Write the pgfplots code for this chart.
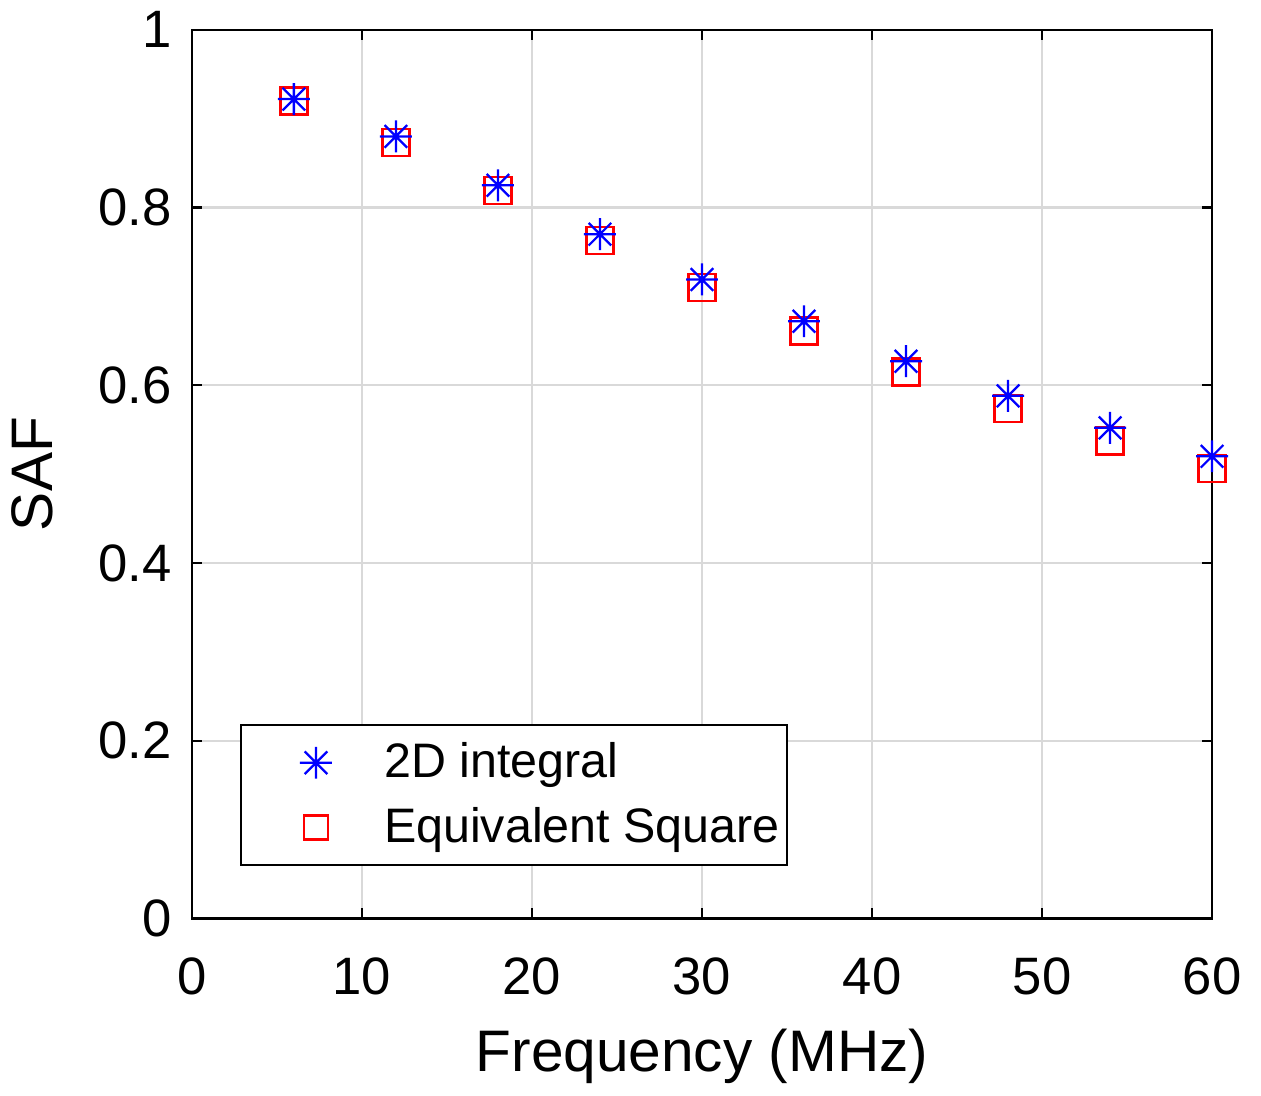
\documentclass[border=0pt]{standalone}
\usepackage{pgfplots}
\pgfplotsset{compat=1.18}
\usepackage{fontspec}
\setmainfont{Liberation Sans}
\pgfdeclareplotmark{star8}{%
  \pgfpathmoveto{\pgfqpoint{-\pgfplotmarksize}{0pt}}\pgfpathlineto{\pgfqpoint{\pgfplotmarksize}{0pt}}%
  \pgfpathmoveto{\pgfqpoint{0pt}{-\pgfplotmarksize}}\pgfpathlineto{\pgfqpoint{0pt}{\pgfplotmarksize}}%
  \pgfpathmoveto{\pgfqpoint{-0.707\pgfplotmarksize}{-0.707\pgfplotmarksize}}\pgfpathlineto{\pgfqpoint{0.707\pgfplotmarksize}{0.707\pgfplotmarksize}}%
  \pgfpathmoveto{\pgfqpoint{-0.707\pgfplotmarksize}{0.707\pgfplotmarksize}}\pgfpathlineto{\pgfqpoint{0.707\pgfplotmarksize}{-0.707\pgfplotmarksize}}%
  \pgfusepathqstroke}
\begin{document}
\begin{tikzpicture}
\begin{axis}[
  scale only axis,
  width=10.22cm, height=8.9cm,
  xmin=0, xmax=60, ymin=0, ymax=1,
  xtick={0,10,...,60},
  ytick={0,0.2,...,1},
  yticklabels={0,0.2,0.4,0.6,0.8,1},
  grid=major,
  major grid style={draw=black!15, line width=0.6pt},
  tick align=inside,
  major tick length=0.1cm,
  axis line style={line width=0.7pt},
  tick style={black, line width=0.6pt},
  ticklabel style={font=\fontsize{15}{17}\selectfont},
  xticklabel style={yshift=-0.27cm},
  yticklabel style={xshift=-0.08cm},
  /pgf/number format/assume math mode=true,
  xlabel={Frequency (MHz)},
  ylabel={SAF},
  label style={font=\fontsize{16.7}{19}\selectfont},
  xlabel style={yshift=-3pt},
  ylabel style={yshift=6pt},
  legend style={at={(0.047,0.0584)}, anchor=south west, draw=black, line width=0.6pt,
    font=\fontsize{13.8}{16}\selectfont, inner xsep=0pt, inner ysep=3pt,
    row sep=3pt},
  legend cell align=left,
  legend image code/.code={\path (0cm,-0.1cm) (1.34cm,0.1cm); \draw[#1] plot coordinates {(0.74cm,0cm)};},
]
\addplot[only marks, mark=square, mark size=0.135cm, draw=red, line width=0.7pt, forget plot] coordinates {
(6,0.920) (12,0.873) (18,0.819) (24,0.763) (30,0.710) (36,0.661) (42,0.615) (48,0.574) (54,0.537) (60,0.506)
};
\addplot[only marks, mark=star8, mark size=0.16cm, draw=blue, line width=0.65pt] coordinates {
(6,0.922) (12,0.880) (18,0.825) (24,0.770) (30,0.719) (36,0.672) (42,0.627) (48,0.588) (54,0.552) (60,0.520)
};
\addlegendentry{2D integral}
\addlegendimage{only marks, mark=square, mark size=0.12cm, draw=red, line width=0.7pt}
\addlegendentry{Equivalent Square}
\end{axis}
\path ([shift={(-1.9cm,-1.74cm)}]current axis.south west) rectangle ([shift={(0.49cm,0.28cm)}]current axis.north east);
\end{tikzpicture}
\end{document}
